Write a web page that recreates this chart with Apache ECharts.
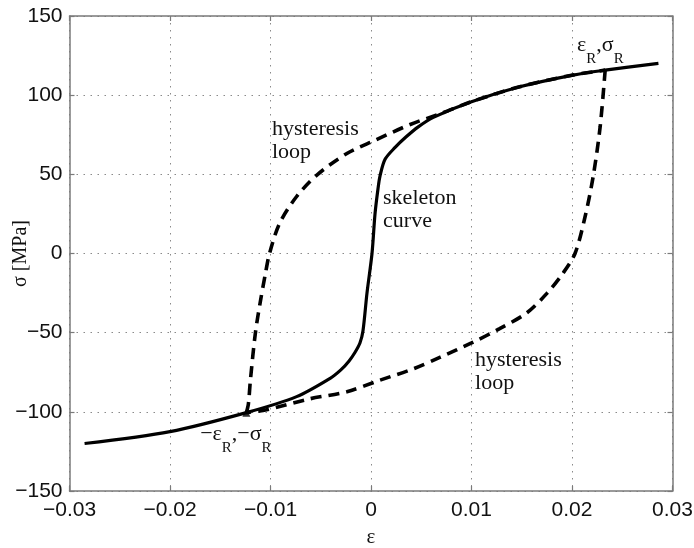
<!DOCTYPE html>
<html><head><meta charset="utf-8">
<script src="https://cdn.jsdelivr.net/npm/echarts@6/dist/echarts.min.js"></script>
<style>html,body{margin:0;padding:0;background:#fff}#c{width:694px;height:548px}</style>
</head><body><div id="c"></div>
<script>
// ---- data ----
const skeletonX = [-0.0285, -0.0200, -0.0124, -0.0074, -0.0041, -0.0030, -0.0022, -0.0016, -0.0011, -0.0008, -0.0004, 0.0001, 0.0004, 0.0007, 0.0009, 0.0014, 0.0024, 0.0035, 0.0047, 0.0062, 0.0100, 0.0148, 0.0201, 0.0233, 0.0286];
const skeletonY = [-120.0, -112.5, -100.5, -90.4, -79.0, -73.5, -68.0, -62.5, -56.5, -49.0, -25.0, 0.0, 25.0, 41.0, 49.0, 59.5, 67.0, 73.7, 80.0, 86.0, 95.9, 105.3, 112.7, 115.8, 120.1];

const upperLoopX = [-0.0124, -0.0122, -0.0120, -0.0115, -0.0110, -0.0105, -0.0101, -0.0091, -0.0074, -0.0053, -0.0024, 0.0004, 0.0039, 0.0070, 0.0100, 0.0148, 0.0201, 0.0233];
const upperLoopY = [-100.5, -95.0, -80.0, -50.0, -30.0, -12.5, 0.0, 19.0, 36.0, 50.0, 63.2, 71.5, 81.5, 88.5, 95.9, 105.3, 112.7, 115.8];

const lowerLoopX = [0.0233, 0.0228, 0.0221, 0.0213, 0.0203, 0.0191, 0.0175, 0.0155, 0.0128, 0.0100, 0.0069, 0.0043, 0.0009, -0.0024, -0.0061, -0.0104, -0.0124];
const lowerLoopY = [115.8, 80.0, 48.4, 23.2, 0.0, -12.5, -25.2, -37.5, -47.5, -56.5, -65.5, -72.6, -80.0, -87.3, -91.8, -98.7, -100.5];

const reversalX = [-0.0124];
const reversalY = [-100.5];

const xTicks = {min: -0.03, max: 0.03, step: 0.01};
const yTicks = {min: -150, max: 150, step: 50};

// annotation anchors (data coordinates, top-left of text); pieces: [text, isSubscript]
const annotations = [
  {pieces: [['hysteresis\nloop', 0]], x: -0.00985, y: 86.0},
  {pieces: [['skeleton\ncurve', 0]], x: 0.0012, y: 42.0},
  {pieces: [['hysteresis\nloop', 0]], x: 0.01035, y: -60.0},
  {pieces: [['ε', 0], ['R', 1], [',σ', 0], ['R', 1]], x: 0.0205, y: 139.0},
  {pieces: [['−ε', 0], ['R', 1], [',−σ', 0], ['R', 1]], x: -0.0170, y: -107.0}
];

const zip = (a, b) => a.map((v, i) => [v, b[i]]);
const minus = '\u2212';
const fmtX = v => Math.abs(v) < 1e-9 ? '0' : (v < 0 ? minus : '') + Math.abs(v).toFixed(2);
const fmtY = v => Math.abs(v) < 1e-9 ? '0' : (v < 0 ? minus : '') + Math.abs(Math.round(v));

const frameColor = '#7a7a7a';
const gridLine = {show: true, lineStyle: {type: [1.5, 5.5], color: '#8a8a8a', width: 1}};
const labelFont = {color: '#111', fontSize: 21, fontFamily: 'Liberation Sans, Arial, sans-serif'};
const serif = 'Liberation Serif, Times New Roman, serif';

const chart = echarts.init(document.getElementById('c'), null, {renderer: 'canvas'});
const option = {
  animation: false,
  backgroundColor: '#fff',
  grid: {left: 69.5, top: 16, right: 21.5, bottom: 57, containLabel: false, outerBoundsMode: 'none'},
  xAxis: [{
    type: 'value', min: xTicks.min, max: xTicks.max, interval: xTicks.step, position: 'bottom',
    axisLine: {show: true, onZero: false, lineStyle: {color: frameColor, width: 1.5}},
    axisTick: {show: true, inside: true, length: 5, lineStyle: {color: frameColor, width: 1.2}},
    axisLabel: Object.assign({formatter: fmtX, margin: 9}, labelFont),
    splitLine: gridLine,
    name: 'ε', nameLocation: 'middle', nameGap: 36, nameMoveOverlap: false,
    nameTextStyle: {fontFamily: serif, fontSize: 21, color: '#111'}
  }, {
    type: 'value', min: xTicks.min, max: xTicks.max, interval: xTicks.step, position: 'top',
    axisLine: {show: true, onZero: false, lineStyle: {color: frameColor, width: 1.5}},
    axisTick: {show: true, inside: true, length: 5, lineStyle: {color: frameColor, width: 1.2}},
    axisLabel: {show: false}, splitLine: {show: false}
  }],
  yAxis: [{
    type: 'value', min: yTicks.min, max: yTicks.max, interval: yTicks.step, position: 'left',
    axisLine: {show: true, onZero: false, lineStyle: {color: frameColor, width: 1.5}},
    axisTick: {show: true, inside: true, length: 5, lineStyle: {color: frameColor, width: 1.2}},
    axisLabel: Object.assign({formatter: fmtY, margin: 7}, labelFont),
    splitLine: gridLine,
    name: 'σ [MPa]', nameLocation: 'middle', nameGap: 49, nameRotate: 90, nameMoveOverlap: false,
    nameTextStyle: {fontFamily: serif, fontSize: 20, color: '#111', verticalAlign: 'middle'}
  }, {
    type: 'value', min: yTicks.min, max: yTicks.max, interval: yTicks.step, position: 'right',
    axisLine: {show: true, onZero: false, lineStyle: {color: frameColor, width: 1.5}},
    axisTick: {show: true, inside: true, length: 5, lineStyle: {color: frameColor, width: 1.2}},
    axisLabel: {show: false}, splitLine: {show: false}
  }],
  series: [{
    name: 'skeleton curve', type: 'line', data: zip(skeletonX, skeletonY),
    showSymbol: false, smooth: 0.3,
    lineStyle: {color: '#000', width: 3.2}, z: 3
  }, {
    name: 'hysteresis loop (upper)', type: 'line', data: zip(upperLoopX, upperLoopY),
    showSymbol: false, smooth: 0.3,
    lineStyle: {color: '#000', width: 3.6, type: [11, 7]}, z: 2
  }, {
    name: 'hysteresis loop (lower)', type: 'line', data: zip(lowerLoopX, lowerLoopY),
    showSymbol: false, smooth: 0.3,
    lineStyle: {color: '#000', width: 3.6, type: [11, 7]}, z: 2
  }, {
    name: 'reversal', type: 'scatter', data: zip(reversalX, reversalY),
    symbol: 'triangle', symbolSize: 8, itemStyle: {color: '#000'}, z: 4
  }]
};
chart.setOption(option);

// build annotation text (subscripts drawn as separate, lowered text pieces)
const mainSize = 22, subSize = 15, subDrop = 14;
const mctx = document.createElement('canvas').getContext('2d');
const graphics = [];
annotations.forEach(a => {
  const p = chart.convertToPixel({xAxisIndex: 0, yAxisIndex: 0}, [a.x, a.y]);
  let cx = p[0];
  a.pieces.forEach(([t, sub]) => {
    const fs = sub ? subSize : mainSize;
    graphics.push({
      type: 'text', x: cx, y: p[1] + (sub ? subDrop : 0), z: 10,
      style: {text: t, fontSize: fs, fontFamily: serif, lineHeight: 23, fill: '#111',
              align: 'left', verticalAlign: 'top'}
    });
    mctx.font = fs + 'px "Liberation Serif", "Times New Roman", serif';
    cx += mctx.measureText(t).width;
  });
});
chart.setOption({graphic: graphics});
</script>
</body></html>
